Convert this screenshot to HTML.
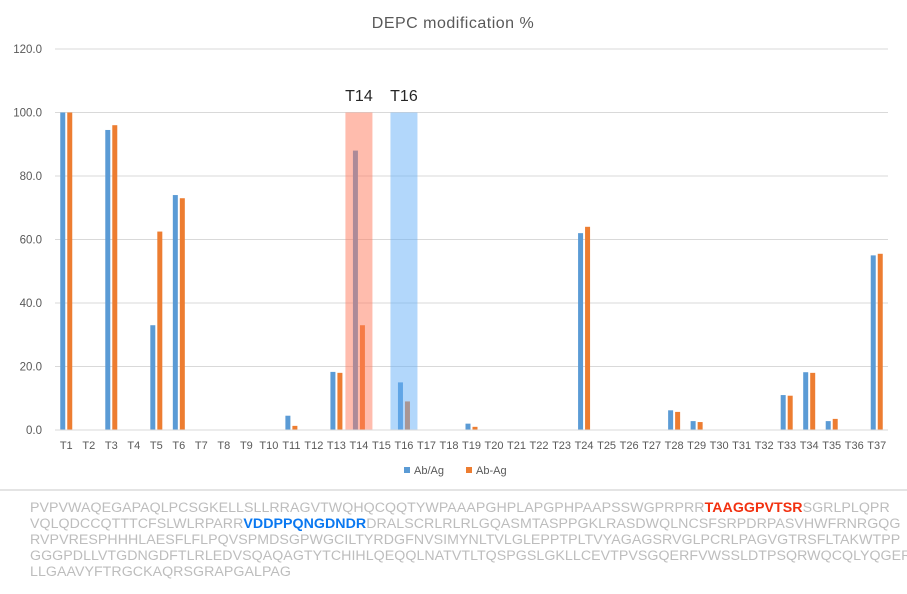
<!DOCTYPE html>
<html><head><meta charset="utf-8"><style>
body{margin:0;background:#fff;width:907px;height:592px;overflow:hidden;font-family:"Liberation Sans",sans-serif;}
#seq{position:absolute;left:0;top:489px;width:907px;height:103px;border-top:2px solid #e4e4e4;}
#seq div{position:absolute;left:30px;top:9px;font-size:14.2px;line-height:16px;color:#bdbdbd;letter-spacing:0.05px;white-space:pre;}
.r{color:#f2300f;font-weight:bold}.b{color:#0a78f0;font-weight:bold}
</style></head><body>
<svg id="chart" width="907" height="489" style="position:absolute;left:0;top:0"></svg>
<div id="seq"><div>PVPVWAQEGAPAQLPCSGKELLSLLRRAGVTWQHQCQQTYWPAAAPGHPLAPGPHPAAPSSWGPRPRR<span class="r">TAAGGPVTSR</span>SGRLPLQPR
VQLQDCCQTTTCFSLWLRPARR<span class="b">VDDPPQNGDNDR</span>DRALSCRLRLRLGQASMTASPPGKLRASDWQLNCSFSRPDRPASVHWFRNRGQG
RVPVRESPHHHLAESFLFLPQVSPMDSGPWGCILTYRDGFNVSIMYNLTVLGLEPPTPLTVYAGAGSRVGLPCRLPAGVGTRSFLTAKWTPP
GGGPDLLVTGDNGDFTLRLEDVSQAQAGTYTCHIHLQEQQLNATVTLTQSPGSLGKLLCEVTPVSGQERFVWSSLDTPSQRWQCQLYQGER
LLGAAVYFTRGCKAQRSGRAPGALPAG</div></div>
<script>
const categories=[];for(let i=1;i<=37;i++)categories.push('T'+i);
const abAg=[100,0,94.5,0,33,74,0,0,0,0,4.5,0,18.3,88,0,15,0,0,2,0,0,0,0,62,0,0,0,6.2,2.8,0,0,0,11,18.2,2.8,0,55];
const abMinusAg=[100,0,96,0,62.5,73,0,0,0,0,1.3,0,18,33,0,9,0,0,1,0,0,0,0,64,0,0,0,5.7,2.5,0,0,0,10.8,18,3.5,0,55.5];
const yTicks=[0,20,40,60,80,100,120];
const highlights=[{cat:'T14',color:'#ff7a5c'},{cat:'T16',color:'#66b0f7'}];
const NS='http://www.w3.org/2000/svg',svg=document.getElementById('chart');
const x0=55,x1=888,yb=430,yt=49;
const step=(x1-x0)/categories.length;
const X=i=>x0+step*(i+0.5);
const Y=v=>yb-(v/120)*(yb-yt);
function mk(t,a,txt){const e=document.createElementNS(NS,t);for(const k in a)e.setAttribute(k,a[k]);if(txt!==undefined)e.textContent=txt;svg.appendChild(e);return e;}
let e=mk('text',{x:453,y:28,'text-anchor':'middle','font-size':16,fill:'#595959','letter-spacing':'0.5'},'DEPC modification %');


yTicks.forEach(t=>{
 let g=mk('line',{x1:x0,x2:x1,y1:Y(t),y2:Y(t),stroke:'#d9d9d9','stroke-width':1});
 
 
 let l=mk('text',{x:42,y:Y(t)+4,'text-anchor':'end','font-size':11.5,fill:'#595959'},t.toFixed(1));
 
 
});
categories.forEach((c,i)=>{
 let b=mk('rect',{x:X(i)-6,y:Y(abAg[i]),width:5,height:yb-Y(abAg[i]),fill:'#5b9bd5'});
 
 
 let o=mk('rect',{x:X(i)+1,y:Y(abMinusAg[i]),width:5,height:yb-Y(abMinusAg[i]),fill:'#ed7d31'});
 
 
 let l=mk('text',{x:X(i),y:449,'text-anchor':'middle','font-size':11,fill:'#595959'},c);
 
 
});
highlights.forEach(h=>{
 const i=categories.indexOf(h.cat);
 let r=mk('rect',{x:X(i)-13.5,y:Y(100),width:27,height:yb-Y(100),fill:h.color,opacity:0.5});
 
 
 let t=mk('text',{x:X(i),y:101,'text-anchor':'middle','font-size':16,fill:'#262626'},h.cat);
 
 
});
let ax=mk('line',{x1:x0,x2:x1,y1:yb,y2:yb,stroke:'#d9d9d9'});


[['Ab/Ag','#5b9bd5',404],['Ab-Ag','#ed7d31',466]].forEach(([n,c,x])=>{
 let s=mk('rect',{x:x,y:467,width:6,height:6,fill:c});
 
 
 let t=mk('text',{x:x+10,y:474,'font-size':11,fill:'#595959'},n);
 
 
});
</script>
</body></html>
